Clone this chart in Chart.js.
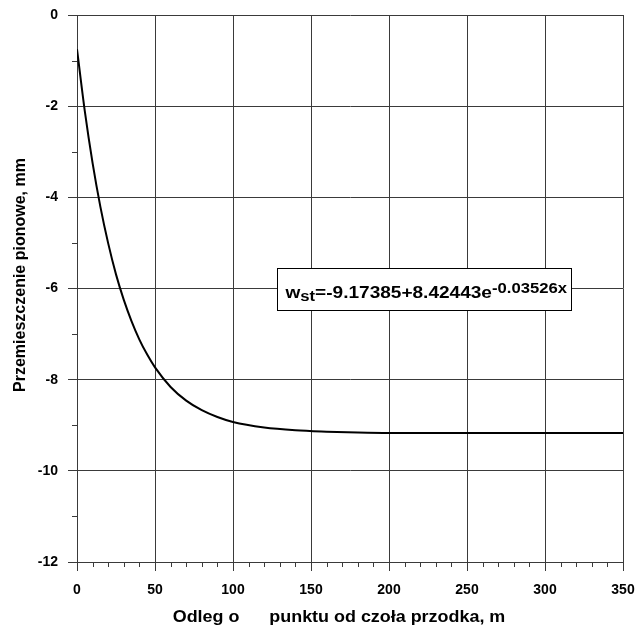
<!DOCTYPE html>
<html>
<head>
<meta charset="utf-8">
<script src="https://cdn.jsdelivr.net/npm/chart.js@4"></script>
<style>
body{margin:0;background:#fff;}
#wrap{width:641px;height:625px;}
</style>
</head>
<body>
<div id="wrap"><canvas id="chart" width="641" height="625"></canvas></div>
<script>
// distance from face (m) and vertical displacement (mm)
const distance = [0, 5, 10, 15, 20, 25, 30, 35, 40, 45, 50, 60, 70, 80, 90, 100, 120, 140, 160, 180, 200, 250, 300, 350];
const displacement = [-0.75, -2.11, -3.25, -4.21, -5.01, -5.69, -6.25, -6.72, -7.12, -7.45, -7.73, -8.16, -8.46, -8.67, -8.82, -8.93, -9.05, -9.11, -9.14, -9.16, -9.17, -9.17, -9.17, -9.17];

const xTicks = [0, 50, 100, 150, 200, 250, 300, 350];
const yTicks = [0, -2, -4, -6, -8, -10, -12];

const xTitle = "Odleg o      punktu od czoła przodka, m";
const yTitle = "Przemieszczenie pionowe, mm";

// equation label, placed in data units
const eqBox = {x1: 128.2, x2: 316.7, y1: -5.55, y2: -6.47};

const FONT = "'Liberation Sans', Arial, sans-serif";
const GRID = "#3a3a3a";

function stretchText(ctx, text, x, y, sx){
  ctx.save();
  ctx.translate(x, y);
  ctx.scale(sx, 1);
  ctx.fillText(text, 0, 0);
  ctx.restore();
  return ctx.measureText(text).width * sx;
}

const extras = {
  id: "extras",
  afterDraw(chart){
    const ctx = chart.ctx;
    const xs = chart.scales.x;
    const ys = chart.scales.y;
    const area = chart.chartArea;

    ctx.save();
    // minor ticks
    ctx.strokeStyle = GRID;
    ctx.lineWidth = 1;
    ctx.beginPath();
    for(let v = 10; v < 350; v += 10){
      if(v % 50 === 0) continue;
      const px = Math.round(xs.getPixelForValue(v)) + 0.5;
      ctx.moveTo(px, area.bottom);
      ctx.lineTo(px, area.bottom + 5);
    }
    for(let v = -11; v < 0; v += 2){
      const py = Math.round(ys.getPixelForValue(v)) + 0.5;
      ctx.moveTo(area.left - 5, py);
      ctx.lineTo(area.left, py);
    }
    ctx.stroke();

    // axis titles
    ctx.fillStyle = "#000";
    ctx.font = "bold 16px " + FONT;
    ctx.textAlign = "center";
    ctx.textBaseline = "alphabetic";
    stretchText(ctx, xTitle, 339, 622, 1.12);
    ctx.save();
    ctx.translate(21, 275);
    ctx.rotate(-Math.PI / 2);
    ctx.textBaseline = "middle";
    ctx.fillText(yTitle, 0, 0);
    ctx.restore();

    // equation box
    const bx = Math.round(xs.getPixelForValue(eqBox.x1)) + 0.5;
    const bx2 = Math.round(xs.getPixelForValue(eqBox.x2)) + 0.5;
    const by = Math.round(ys.getPixelForValue(eqBox.y1)) + 0.5;
    const by2 = Math.round(ys.getPixelForValue(eqBox.y2)) + 0.5;
    ctx.fillStyle = "#fff";
    ctx.fillRect(bx, by, bx2 - bx, by2 - by);
    ctx.strokeStyle = "#000";
    ctx.strokeRect(bx, by, bx2 - bx, by2 - by);

    ctx.fillStyle = "#000";
    ctx.textAlign = "left";
    const sx = 1.19;
    let tx = bx + 8;
    const base = by + 29;
    ctx.font = "bold 16px " + FONT;
    tx += stretchText(ctx, "w", tx, base, sx);
    ctx.font = "bold 14px " + FONT;
    tx += stretchText(ctx, "st", tx, base + 3, sx);
    ctx.font = "bold 16px " + FONT;
    tx += stretchText(ctx, "=-9.17385+8.42443e", tx, base, sx);
    ctx.font = "bold 14px " + FONT;
    stretchText(ctx, "-0.03526x", tx, base - 5, sx);
    ctx.restore();
  }
};

new Chart(document.getElementById("chart"), {
  type: "line",
  data: {
    datasets: [{
      data: distance.map((d, i) => ({x: d, y: displacement[i]})),
      borderColor: "#000",
      borderWidth: 2,
      pointRadius: 0,
      cubicInterpolationMode: "monotone",
      fill: false
    }]
  },
  options: {
    responsive: false,
    animation: false,
    events: [],
    layout: {padding: {top: 15, right: 18, left: 0, bottom: 0}},
    plugins: {legend: {display: false}, tooltip: {enabled: false}},
    scales: {
      x: {
        type: "linear",
        min: 0,
        max: 350,
        afterBuildTicks: s => { s.ticks = xTicks.map(v => ({value: v})); },
        afterFit: s => { s.height = 63; s.paddingLeft = 0; s.paddingRight = 0; },
        ticks: {
          color: "#000",
          font: {family: FONT, size: 14, weight: "bold"},
          padding: 11,
          maxRotation: 0
        },
        grid: {color: GRID, tickColor: GRID, tickLength: 9, lineWidth: 1},
        border: {display: true, color: GRID}
      },
      y: {
        type: "linear",
        min: -12,
        max: 0,
        afterBuildTicks: s => { s.ticks = yTicks.map(v => ({value: v})); },
        afterFit: s => { s.width = 77; s.paddingTop = 0; s.paddingBottom = 0; },
        ticks: {
          color: "#000",
          font: {family: FONT, size: 14, weight: "bold"},
          padding: 10
        },
        grid: {color: GRID, tickColor: GRID, tickLength: 9, lineWidth: 1},
        border: {display: true, color: GRID}
      }
    }
  },
  plugins: [extras]
});
</script>
</body>
</html>
